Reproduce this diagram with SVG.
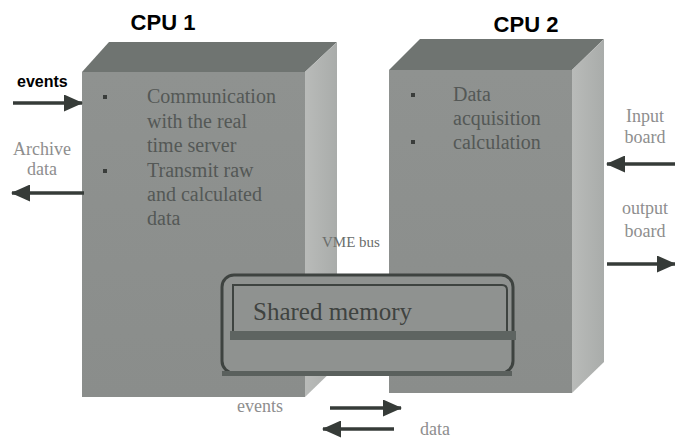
<svg xmlns="http://www.w3.org/2000/svg" width="675" height="440" viewBox="0 0 675 440">
  <defs>
    <marker id="head" markerUnits="userSpaceOnUse" markerWidth="19" markerHeight="17" refX="18" refY="8.5" orient="auto">
      <path d="M0,0 L19,8.5 L0,17 Z" fill="#363b38"/>
    </marker>
    <linearGradient id="side" x1="0" y1="0" x2="1" y2="0">
      <stop offset="0" stop-color="#b9bbb9"/>
      <stop offset="1" stop-color="#a9acaa"/>
    </linearGradient>
    <linearGradient id="front" x1="0" y1="0" x2="0" y2="1">
      <stop offset="0" stop-color="#8f9290"/>
      <stop offset="1" stop-color="#8a8d8b"/>
    </linearGradient>
  </defs>
  <style>
    .front { fill: url(#front); }
    .top { fill: #6f7471; }
    .side { fill: url(#side); }
    .title { font-family: "Liberation Sans", Arial, sans-serif; font-weight: bold; font-size: 22px; fill: #000; }
    .body { font-family: "Liberation Serif", "Times New Roman", serif; font-size: 20px; fill: #545856; }
    .label { font-family: "Liberation Serif", "Times New Roman", serif; font-size: 18px; fill: #8e8e8e; }
    .bullet { fill: #3a3d3b; }
    .arrow { stroke: #363b38; stroke-width: 3.5; fill: none; marker-end: url(#head); }
  </style>

  <rect width="675" height="440" fill="#ffffff"/>

  <!-- CPU 1 block -->
  <g id="cpu1">
    <polygon class="top" points="82,72 109,42 337,42 305,72"/>
    <polygon class="side" points="305,72 337,42 337,366 305,397"/>
    <rect class="front" x="82" y="72" width="223" height="325"/>
    <text class="title" x="163" y="30" text-anchor="middle">CPU 1</text>
    <rect class="bullet" x="103" y="95" width="4" height="4"/>
    <rect class="bullet" x="103" y="169" width="4" height="4"/>
    <text class="body" x="147" y="103">Communication</text>
    <text class="body" x="147" y="128">with the real</text>
    <text class="body" x="147" y="152">time server</text>
    <text class="body" x="147" y="177">Transmit raw</text>
    <text class="body" x="147" y="201">and calculated</text>
    <text class="body" x="147" y="225">data</text>
  </g>

  <!-- CPU 2 block -->
  <g id="cpu2">
    <polygon class="top" points="389,70 420,39 604,39 572,70"/>
    <polygon class="side" points="572,70 604,39 604,362 572,393"/>
    <rect class="front" x="389" y="70" width="183" height="323"/>
    <text class="title" x="526" y="32" text-anchor="middle">CPU 2</text>
    <rect class="bullet" x="411" y="93" width="4" height="4"/>
    <rect class="bullet" x="411" y="140" width="4" height="4"/>
    <text class="body" x="453" y="101">Data</text>
    <text class="body" x="453" y="125">acquisition</text>
    <text class="body" x="453" y="149">calculation</text>
  </g>

  <!-- VME bus with shared memory -->
  <g id="vme-bus">
    <text x="322" y="247" font-family="Liberation Serif, Times New Roman, serif" font-size="15" fill="#6a6d6b">VME bus</text>
    <rect x="222" y="275" width="291" height="98" rx="12" ry="12" fill="#8f9290" stroke="#3e4340" stroke-width="3"/>
    <path d="M233,337 L233,285 L502,285 Q507,285 507,290 L507,337" fill="none" stroke="#3e4340" stroke-width="2"/>
    <rect x="230" y="331" width="286" height="9" fill="#5e6461"/>
    <rect x="222" y="371" width="290" height="5" fill="#5a605d"/>
  </g>
  <g id="shared-memory">
    <text x="253" y="320" font-family="Liberation Serif, Times New Roman, serif" font-size="25" fill="#3f4340">Shared memory</text>
  </g>

  <!-- connectors -->
  <g id="connectors">
    <line class="arrow" x1="13" y1="103" x2="82" y2="103"/>
    <line class="arrow" x1="84" y1="193" x2="12" y2="193"/>
    <line class="arrow" x1="675" y1="164" x2="607" y2="164"/>
    <line class="arrow" x1="607" y1="264" x2="675" y2="264"/>
    <line class="arrow" x1="330" y1="408" x2="401" y2="408"/>
    <line class="arrow" x1="394" y1="429" x2="323" y2="429"/>
  </g>

  <!-- external labels -->
  <g id="labels">
    <text x="17" y="87" font-family="Liberation Sans, Arial, sans-serif" font-weight="bold" font-size="16" fill="#000">events</text>
    <text class="label" x="42" y="155" text-anchor="middle">Archive</text>
    <text class="label" x="42" y="175" text-anchor="middle">data</text>
    <text class="label" x="645" y="122" text-anchor="middle">Input</text>
    <text class="label" x="645" y="143" text-anchor="middle">board</text>
    <text class="label" x="645" y="214" text-anchor="middle">output</text>
    <text class="label" x="645" y="237" text-anchor="middle">board</text>
    <text class="label" x="260" y="412" text-anchor="middle">events</text>
    <text class="label" x="435" y="435" text-anchor="middle">data</text>
  </g>
</svg>
